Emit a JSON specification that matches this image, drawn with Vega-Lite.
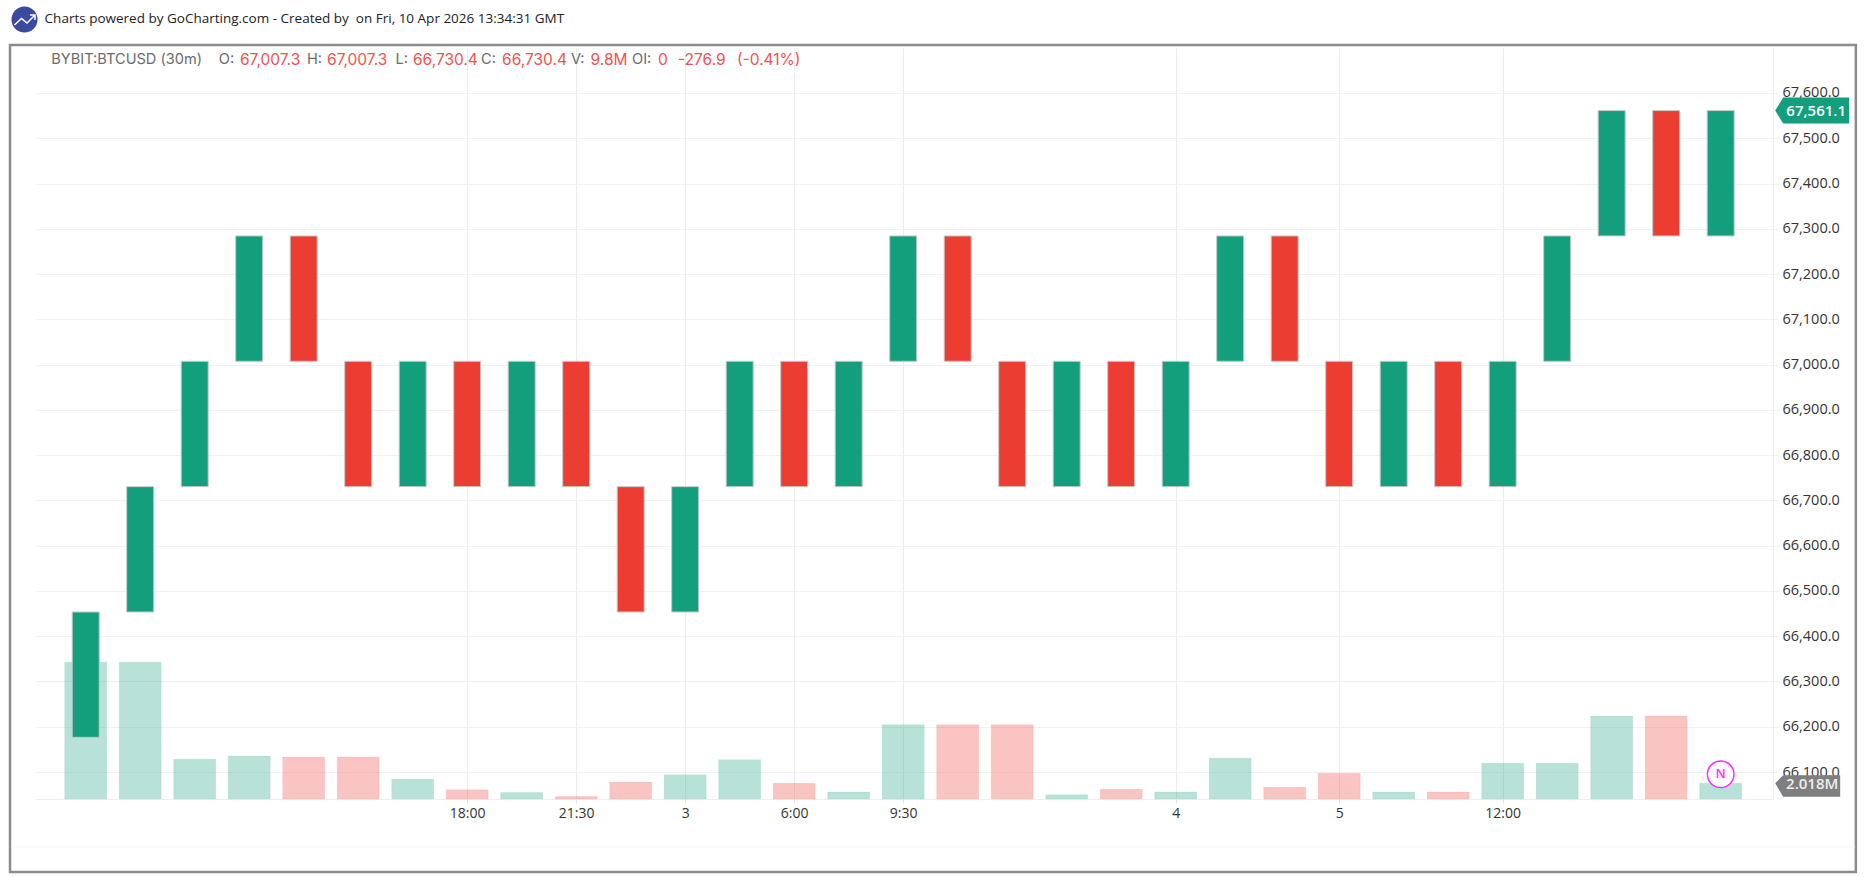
{
  "$schema": "https://vega.github.io/schema/vega-lite/v6.json",
  "width": 1737,
  "height": 751,
  "padding": {"left": 36, "top": 48, "right": 93, "bottom": 78},
  "autosize": "none",
  "background": "white",
  "config": {
    "view": {"stroke": null},
    "text": {"font": "Open Sans"}
  },
  "datasets": {
    "header": [
      {
        "brand": "Charts powered by GoCharting.com - Created by \u00a0on Fri, 10 Apr 2026 13:34:31 GMT",
        "symbol": "BYBIT:BTCUSD (30m)",
        "o": "67,007.3",
        "h": "67,007.3",
        "l": "66,730.4",
        "c": "66,730.4",
        "v": "9.8M",
        "oi": "0",
        "chg": "-276.9",
        "pct": "(-0.41%)"
      }
    ],
    "bars": [
      {"idx": 0, "open": 66176.6, "close": 66453.5, "volume": 17570000, "dir": "up"},
      {"idx": 1, "open": 66453.5, "close": 66730.4, "volume": 17570000, "dir": "up"},
      {"idx": 2, "open": 66730.4, "close": 67007.3, "volume": 5100000, "dir": "up"},
      {"idx": 3, "open": 67007.3, "close": 67284.2, "volume": 5530000, "dir": "up"},
      {"idx": 4, "open": 67284.2, "close": 67007.3, "volume": 5400000, "dir": "down"},
      {"idx": 5, "open": 67007.3, "close": 66730.4, "volume": 5400000, "dir": "down"},
      {"idx": 6, "open": 66730.4, "close": 67007.3, "volume": 2530000, "dir": "up"},
      {"idx": 7, "open": 67007.3, "close": 66730.4, "volume": 1200000, "dir": "down"},
      {"idx": 8, "open": 66730.4, "close": 67007.3, "volume": 840000, "dir": "up"},
      {"idx": 9, "open": 67007.3, "close": 66730.4, "volume": 320000, "dir": "down"},
      {"idx": 10, "open": 66730.4, "close": 66453.5, "volume": 2180000, "dir": "down"},
      {"idx": 11, "open": 66453.5, "close": 66730.4, "volume": 3120000, "dir": "up"},
      {"idx": 12, "open": 66730.4, "close": 67007.3, "volume": 5050000, "dir": "up"},
      {"idx": 13, "open": 67007.3, "close": 66730.4, "volume": 2020000, "dir": "down"},
      {"idx": 14, "open": 66730.4, "close": 67007.3, "volume": 900000, "dir": "up"},
      {"idx": 15, "open": 67007.3, "close": 67284.2, "volume": 9550000, "dir": "up"},
      {"idx": 16, "open": 67284.2, "close": 67007.3, "volume": 9550000, "dir": "down"},
      {"idx": 17, "open": 67007.3, "close": 66730.4, "volume": 9550000, "dir": "down"},
      {"idx": 18, "open": 66730.4, "close": 67007.3, "volume": 550000, "dir": "up"},
      {"idx": 19, "open": 67007.3, "close": 66730.4, "volume": 1250000, "dir": "down"},
      {"idx": 20, "open": 66730.4, "close": 67007.3, "volume": 900000, "dir": "up"},
      {"idx": 21, "open": 67007.3, "close": 67284.2, "volume": 5230000, "dir": "up"},
      {"idx": 22, "open": 67284.2, "close": 67007.3, "volume": 1500000, "dir": "down"},
      {"idx": 23, "open": 67007.3, "close": 66730.4, "volume": 3300000, "dir": "down"},
      {"idx": 24, "open": 66730.4, "close": 67007.3, "volume": 900000, "dir": "up"},
      {"idx": 25, "open": 67007.3, "close": 66730.4, "volume": 900000, "dir": "down"},
      {"idx": 26, "open": 66730.4, "close": 67007.3, "volume": 4590000, "dir": "up"},
      {"idx": 27, "open": 67007.3, "close": 67284.2, "volume": 4590000, "dir": "up"},
      {"idx": 28, "open": 67284.2, "close": 67561.1, "volume": 10670000, "dir": "up"},
      {"idx": 29, "open": 67561.1, "close": 67284.2, "volume": 10670000, "dir": "down"},
      {"idx": 30, "open": 67284.2, "close": 67561.1, "volume": 2018000, "dir": "up"}
    ]
  },
  "resolve": {"scale": {"x": "independent", "y": "independent"}},
  "layer": [
    {
      "data": {"name": "bars"},
      "mark": {"type": "point", "opacity": 0},
      "encoding": {
        "x": {
          "field": "idx",
          "type": "quantitative",
          "scale": {"domain": [-0.912, 30.96], "nice": false, "zero": false},
          "axis": {
            "title": null,
            "orient": "bottom",
            "values": [7, 9, 11, 13, 15, 20, 23, 26],
            "labelExpr": "{7: '18:00', 9: '21:30', 11: '3', 13: '6:00', 15: '9:30', 20: '4', 23: '5', 26: '12:00'}[datum.value]",
            "grid": true,
            "gridColor": "#ebecee",
            "domainColor": "#eeeeee",
            "tickColor": "#e4e4e6",
            "tickSize": 4,
            "labelFont": "Open Sans",
            "labelFontSize": 14,
            "labelColor": "#333333",
            "labelPadding": 3,
            "labelFlush": false,
            "labelOverlap": false
          }
        },
        "y": {
          "field": "open",
          "type": "quantitative",
          "scale": {"domain": [66040.4, 67699.4], "nice": false, "zero": false},
          "axis": {
            "title": null,
            "orient": "right",
            "values": [66100, 66200, 66300, 66400, 66500, 66600, 66700, 66800, 66900, 67000, 67100, 67200, 67300, 67400, 67500, 67600],
            "format": ",.1f",
            "grid": true,
            "gridColor": "#f1f1f2",
            "domainColor": "#eeeeee",
            "tickColor": "#eeeeee",
            "tickSize": 5,
            "labelFont": "Open Sans",
            "labelFontSize": 14.5,
            "labelColor": "#333333",
            "labelPadding": 4,
            "labelOverlap": false
          }
        }
      }
    },
    {
      "data": {"name": "header"},
      "layer": [
        {
          "mark": {"type": "rect", "fillOpacity": 0, "stroke": "#8b8b90", "strokeWidth": 2.5},
          "encoding": {
            "x": {"datum": -1.389, "scale": {"domain": [-0.912, 30.96], "nice": false}, "axis": null},
            "x2": {"datum": 32.48},
            "y": {"datum": 67706, "scale": {"domain": [66040.4, 67699.4], "nice": false}, "axis": null},
            "y2": {"datum": 65879}
          }
        },
        {
          "mark": {"type": "rule", "color": "#f7f7f7"},
          "encoding": {
            "x": {"datum": -1.36, "scale": {"domain": [-0.912, 30.96], "nice": false}, "axis": null},
            "x2": {"datum": 32.46},
            "y": {"datum": 65934, "scale": {"domain": [66040.4, 67699.4], "nice": false}, "axis": null}
          }
        }
      ]
    },
    {
      "data": {"name": "bars"},
      "mark": {"type": "bar", "size": 42, "orient": "vertical", "fillOpacity": 0.3, "strokeOpacity": 0.08, "strokeWidth": 1},
      "encoding": {
        "x": {"field": "idx", "type": "quantitative", "scale": {"domain": [-0.912, 30.96], "nice": false, "padding": 0}, "axis": null},
        "y": {"field": "volume", "type": "quantitative", "scale": {"domain": [0, 96500000], "nice": false}, "axis": null},
        "color": {
          "field": "dir",
          "type": "nominal",
          "scale": {"domain": ["up", "down"], "range": ["#139e7c", "#ec3d33"]},
          "legend": null
        },
        "stroke": {"field": "dir", "type": "nominal", "scale": {"domain": ["up", "down"], "range": ["#139e7c", "#ec3d33"]}, "legend": null}
      }
    },
    {
      "layer": [
        {
          "data": {"name": "bars"},
          "mark": {"type": "bar", "size": 27, "orient": "vertical", "stroke": "#c3caca", "strokeWidth": 1},
          "encoding": {
            "x": {"field": "idx", "type": "quantitative", "scale": {"domain": [-0.912, 30.96], "nice": false, "padding": 0}, "axis": null},
            "y": {"field": "open", "type": "quantitative", "scale": {"domain": [66040.4, 67699.4], "nice": false, "zero": false}, "axis": null},
            "y2": {"field": "close"},
            "color": {"field": "dir", "type": "nominal", "legend": null}
          }
        },
        {
          "data": {"name": "bars"},
          "transform": [{"filter": "datum.idx == 30"}],
          "encoding": {
            "x": {"datum": 31, "scale": {"domain": [-0.912, 30.96], "nice": false}, "axis": null},
            "y": {"field": "close", "type": "quantitative", "scale": {"domain": [66040.4, 67699.4], "nice": false}, "axis": null}
          },
          "layer": [
            {
              "mark": {"type": "point", "shape": "M0,0 L8,-13 L74,-13 L74,13 L8,13 Z", "size": 4, "filled": true, "color": "#139e7c", "opacity": 1}
            },
            {
              "mark": {"type": "text", "color": "white", "fontSize": 15, "fontWeight": 600, "dx": 41, "align": "center", "baseline": "middle"},
              "encoding": {
                "text": {"field": "close", "type": "quantitative", "format": ",.1f"}
              }
            }
          ]
        },
        {
          "data": {"name": "header"},
          "encoding": {
            "x": {"datum": 30, "scale": {"domain": [-0.912, 30.96], "nice": false}, "axis": null},
            "y": {"datum": 66095, "scale": {"domain": [66040.4, 67699.4], "nice": false}, "axis": null}
          },
          "layer": [
            {
              "mark": {"type": "point", "shape": "circle", "size": 707, "filled": true, "fill": "white", "stroke": "#ff2bff", "strokeWidth": 1.5, "opacity": 1}
            },
            {
              "mark": {"type": "text", "text": "N", "color": "#ff2bff", "fontSize": 13, "fontWeight": 600, "align": "center", "baseline": "middle"}
            }
          ]
        },
        {
          "data": {"name": "header"},
          "encoding": {
            "x": {"datum": -1.123, "scale": {"domain": [-0.912, 30.96], "nice": false}, "axis": null},
            "y": {"datum": 67762.4, "scale": {"domain": [66040.4, 67699.4], "nice": false}, "axis": null}
          },
          "layer": [
            {
              "mark": {"type": "point", "shape": "circle", "size": 679, "filled": true, "color": "#3b4a9e", "opacity": 1}
            },
            {
              "mark": {"type": "point", "shape": "M-10,5.5 L-3,-1 L2.5,3.5 L10,-4 M5.5,-4.5 L10.5,-4.5 L10.5,0.5", "size": 4, "filled": false, "color": "white", "strokeWidth": 1.5, "opacity": 1}
            },
            {
              "mark": {"type": "text", "align": "left", "baseline": "middle", "fontSize": 13.5, "color": "#222222"},
              "encoding": {"x": {"datum": -0.754, "scale": {"domain": [-0.912, 30.96], "nice": false}, "axis": null}, "text": {"field": "brand"}}
            }
          ]
        },
        {
          "data": {"name": "header"},
          "encoding": {
            "y": {"datum": 67672.9, "scale": {"domain": [66040.4, 67699.4], "nice": false}, "axis": null}
          },
          "layer": [
            {
              "mark": {"type": "text", "align": "left", "baseline": "middle", "font": "Inter", "fontSize": 14.6, "color": "#6b6b6b"},
              "encoding": {"x": {"datum": -0.631, "scale": {"domain": [-0.912, 30.96], "nice": false}, "axis": null}, "text": {"field": "symbol"}}
            },
            {"mark": {"type": "text", "text": "O:", "align": "left", "baseline": "middle", "font": "Inter", "fontSize": 14.6, "color": "#6b6b6b"}, "encoding": {"x": {"datum": 2.442, "scale": {"domain": [-0.912, 30.96], "nice": false}, "axis": null}}},
            {"mark": {"type": "text", "text": "H:", "align": "left", "baseline": "middle", "font": "Inter", "fontSize": 14.6, "color": "#6b6b6b"}, "encoding": {"x": {"datum": 4.061, "scale": {"domain": [-0.912, 30.96], "nice": false}, "axis": null}}},
            {"mark": {"type": "text", "text": "L:", "align": "left", "baseline": "middle", "font": "Inter", "fontSize": 14.6, "color": "#6b6b6b"}, "encoding": {"x": {"datum": 5.684, "scale": {"domain": [-0.912, 30.96], "nice": false}, "axis": null}}},
            {"mark": {"type": "text", "text": "C:", "align": "left", "baseline": "middle", "font": "Inter", "fontSize": 14.6, "color": "#6b6b6b"}, "encoding": {"x": {"datum": 7.253, "scale": {"domain": [-0.912, 30.96], "nice": false}, "axis": null}}},
            {"mark": {"type": "text", "text": "V:", "align": "left", "baseline": "middle", "font": "Inter", "fontSize": 14.6, "color": "#6b6b6b"}, "encoding": {"x": {"datum": 8.906, "scale": {"domain": [-0.912, 30.96], "nice": false}, "axis": null}}},
            {"mark": {"type": "text", "text": "OI:", "align": "left", "baseline": "middle", "font": "Inter", "fontSize": 14.6, "color": "#6b6b6b"}, "encoding": {"x": {"datum": 10.024, "scale": {"domain": [-0.912, 30.96], "nice": false}, "axis": null}}},
            {"mark": {"type": "text", "align": "left", "baseline": "middle", "font": "Inter", "fontSize": 15.5, "color": "#f0524f"}, "encoding": {"x": {"datum": 2.831, "scale": {"domain": [-0.912, 30.96], "nice": false}, "axis": null}, "text": {"field": "o"}}},
            {"mark": {"type": "text", "align": "left", "baseline": "middle", "font": "Inter", "fontSize": 15.5, "color": "#f0524f"}, "encoding": {"x": {"datum": 4.428, "scale": {"domain": [-0.912, 30.96], "nice": false}, "axis": null}, "text": {"field": "h"}}},
            {"mark": {"type": "text", "align": "left", "baseline": "middle", "font": "Inter", "fontSize": 15.5, "color": "#f0524f"}, "encoding": {"x": {"datum": 6.005, "scale": {"domain": [-0.912, 30.96], "nice": false}, "axis": null}, "text": {"field": "l"}}},
            {"mark": {"type": "text", "align": "left", "baseline": "middle", "font": "Inter", "fontSize": 15.5, "color": "#f0524f"}, "encoding": {"x": {"datum": 7.64, "scale": {"domain": [-0.912, 30.96], "nice": false}, "axis": null}, "text": {"field": "c"}}},
            {"mark": {"type": "text", "align": "left", "baseline": "middle", "font": "Inter", "fontSize": 15.5, "color": "#f0524f"}, "encoding": {"x": {"datum": 9.264, "scale": {"domain": [-0.912, 30.96], "nice": false}, "axis": null}, "text": {"field": "v"}}},
            {"mark": {"type": "text", "align": "left", "baseline": "middle", "font": "Inter", "fontSize": 15.5, "color": "#f0524f"}, "encoding": {"x": {"datum": 10.501, "scale": {"domain": [-0.912, 30.96], "nice": false}, "axis": null}, "text": {"field": "oi"}}},
            {"mark": {"type": "text", "align": "left", "baseline": "middle", "font": "Inter", "fontSize": 15.5, "color": "#f0524f"}, "encoding": {"x": {"datum": 10.868, "scale": {"domain": [-0.912, 30.96], "nice": false}, "axis": null}, "text": {"field": "chg"}}},
            {"mark": {"type": "text", "align": "left", "baseline": "middle", "font": "Inter", "fontSize": 15.5, "color": "#f0524f"}, "encoding": {"x": {"datum": 11.95, "scale": {"domain": [-0.912, 30.96], "nice": false}, "axis": null}, "text": {"field": "pct"}}}
          ]
        }
      ]
    },
    {
      "data": {"name": "bars"},
      "transform": [{"filter": "datum.idx == 30"}],
      "encoding": {
        "x": {"datum": 31, "scale": {"domain": [-0.912, 30.96], "nice": false}, "axis": null},
        "y": {"field": "volume", "type": "quantitative", "scale": {"domain": [0, 96500000], "nice": false}, "axis": null}
      },
      "layer": [
        {
          "mark": {"type": "point", "shape": "M0,0 L8,-8 L65,-8 L65,13.5 L8,13.5 Z", "size": 4, "filled": true, "color": "#7f7f7f", "opacity": 1}
        },
        {
          "mark": {"type": "text", "color": "#eeeeee", "fontSize": 15, "fontWeight": 600, "dx": 37, "dy": 1, "align": "center", "baseline": "middle"},
          "encoding": {
            "text": {"field": "volume", "type": "quantitative", "format": ".4s"}
          }
        }
      ]
    }
  ]
}
